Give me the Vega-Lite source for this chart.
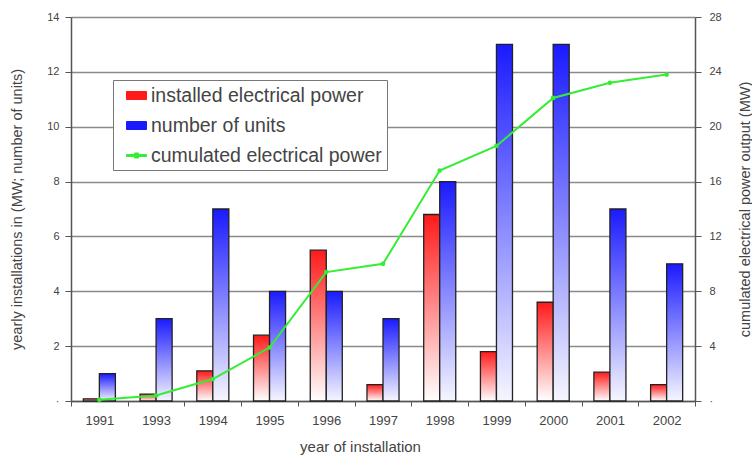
{
  "$schema": "https://vega.github.io/schema/vega-lite/v6.json",
  "width": 624,
  "height": 384,
  "autosize": "none",
  "padding": {"left": 71, "top": 17, "right": 57, "bottom": 56},
  "background": "white",
  "config": {
    "font": "Liberation Sans",
    "view": {"stroke": null},
    "axis": {"labelFont": "Liberation Sans", "titleFont": "Liberation Sans", "titleFontWeight": "normal", "labelColor": "#444", "titleColor": "#444"}
  },
  "datasets": {
    "bars": [
      {"year": "1991", "series": "installed electrical power", "value": 0.08},
      {"year": "1991", "series": "number of units", "value": 1},
      {"year": "1993", "series": "installed electrical power", "value": 0.25},
      {"year": "1993", "series": "number of units", "value": 3},
      {"year": "1994", "series": "installed electrical power", "value": 1.1},
      {"year": "1994", "series": "number of units", "value": 7},
      {"year": "1995", "series": "installed electrical power", "value": 2.4},
      {"year": "1995", "series": "number of units", "value": 4},
      {"year": "1996", "series": "installed electrical power", "value": 5.5},
      {"year": "1996", "series": "number of units", "value": 4},
      {"year": "1997", "series": "installed electrical power", "value": 0.6},
      {"year": "1997", "series": "number of units", "value": 3},
      {"year": "1998", "series": "installed electrical power", "value": 6.8},
      {"year": "1998", "series": "number of units", "value": 8},
      {"year": "1999", "series": "installed electrical power", "value": 1.8},
      {"year": "1999", "series": "number of units", "value": 13},
      {"year": "2000", "series": "installed electrical power", "value": 3.6},
      {"year": "2000", "series": "number of units", "value": 13},
      {"year": "2001", "series": "installed electrical power", "value": 1.05},
      {"year": "2001", "series": "number of units", "value": 7},
      {"year": "2002", "series": "installed electrical power", "value": 0.6},
      {"year": "2002", "series": "number of units", "value": 5}
    ],
    "cumulative": [
      {"year": "1991", "series": "cumulated electrical power", "cumulated": 0.1},
      {"year": "1993", "series": "cumulated electrical power", "cumulated": 0.4},
      {"year": "1994", "series": "cumulated electrical power", "cumulated": 1.6},
      {"year": "1995", "series": "cumulated electrical power", "cumulated": 3.9},
      {"year": "1996", "series": "cumulated electrical power", "cumulated": 9.4},
      {"year": "1997", "series": "cumulated electrical power", "cumulated": 10.0},
      {"year": "1998", "series": "cumulated electrical power", "cumulated": 16.8},
      {"year": "1999", "series": "cumulated electrical power", "cumulated": 18.6},
      {"year": "2000", "series": "cumulated electrical power", "cumulated": 22.1},
      {"year": "2001", "series": "cumulated electrical power", "cumulated": 23.2},
      {"year": "2002", "series": "cumulated electrical power", "cumulated": 23.8}
    ]
  },
  "layer": [
    {
      "data": {"name": "bars"},
      "mark": {"type": "bar", "stroke": "#222", "strokeWidth": 1.3},
      "encoding": {
        "x": {
          "field": "year", "type": "nominal", "sort": null,
          "scale": {"paddingInner": 0, "paddingOuter": 0},
          "axis": {
            "title": "year of installation", "labelAngle": 0, "tickBand": "extent",
            "domainColor": "#555", "domainWidth": 1.5, "tickColor": "#555", "tickSize": 5,
            "labelFontSize": 13, "labelPadding": 8,
            "titleFontSize": 15, "titleX": 289, "titleY": 45, "titleBaseline": "middle",
            "grid": false
          }
        },
        "xOffset": {
          "field": "series", "type": "nominal",
          "scale": {"domain": ["installed electrical power", "number of units"], "paddingOuter": 0.77, "paddingInner": 0}
        },
        "y": {
          "field": "value", "type": "quantitative",
          "scale": {"domain": [0, 14], "nice": false},
          "axis": {
            "title": "yearly installations in (MW; number of units)",
            "values": [0, 2, 4, 6, 8, 10, 12, 14],
            "labelExpr": "datum.value == 0 ? '·' : datum.label",
            "grid": true, "gridColor": "#8a8a8a", "gridWidth": 1.5,
            "domainColor": "#555", "domainWidth": 1.5, "tickColor": "#555", "tickSize": 6,
            "labelFontSize": 11, "labelPadding": 6,
            "titleFontSize": 14.5, "titleX": -54, "titleBaseline": "middle"
          }
        },
        "fill": {
          "condition": {
            "test": "datum.series === 'installed electrical power'",
            "value": {"gradient": "linear", "x1": 0, "y1": 0, "x2": 0, "y2": 1, "stops": [{"offset": 0, "color": "#ff1a1a"}, {"offset": 1, "color": "#ffffff"}]}
          },
          "value": {"gradient": "linear", "x1": 0, "y1": 0, "x2": 0, "y2": 1, "stops": [{"offset": 0, "color": "#1a1aff"}, {"offset": 1, "color": "#f6f6ff"}]}
        }
      }
    },
    {
      "data": {"name": "cumulative"},
      "mark": {"type": "line", "strokeWidth": 2, "point": {"filled": true, "size": 22}},
      "encoding": {
        "x": {"field": "year", "type": "nominal", "sort": null},
        "y": {
          "field": "cumulated", "type": "quantitative",
          "scale": {"domain": [0, 28], "nice": false},
          "axis": {
            "orient": "right",
            "title": "cumulated electrical power output (MW)",
            "values": [0, 4, 8, 12, 16, 20, 24, 28],
            "labelExpr": "datum.value == 0 ? '·' : datum.label",
            "grid": false,
            "domainColor": "#555", "domainWidth": 1.5, "tickColor": "#555", "tickSize": 6,
            "labelFontSize": 11, "labelPadding": 8,
            "titleFontSize": 14.5, "titleAngle": 270, "titleX": 50, "titleBaseline": "middle"
          }
        },
        "color": {
          "field": "series", "type": "nominal",
          "scale": {
            "domain": ["installed electrical power", "number of units", "cumulated electrical power"],
            "range": ["#ff1a1a", "#1a1aff", "#33ee33"]
          },
          "legend": {
            "orient": "none", "legendX": 42, "legendY": 63, "title": null,
            "labelFont": "Liberation Sans", "labelFontSize": 19.5, "labelColor": "#444",
            "fillColor": "white", "strokeColor": "#777", "padding": 5, "rowPadding": 10,
            "symbolSize": 400, "symbolOffset": 8, "labelOffset": 4, "labelLimit": 400,
            "encode": {
              "symbols": {
                "update": {
                  "shape": [
                    {"test": "datum.value === 'cumulated electrical power'", "value": "M-1,-0.1H1V0.1H-1Z M-0.2,-0.25H0.2V0.25H-0.2Z"},
                    {"value": "M-1,-0.4H1V0.4H-1Z"}
                  ],
                  "fill": [
                    {"test": "datum.value === 'installed electrical power'", "value": {"gradient": "linear", "x1": 0, "y1": 0, "x2": 0, "y2": 1, "stops": [{"offset": 0, "color": "#ff1a1a"}, {"offset": 1, "color": "#ffffff"}]}},
                    {"test": "datum.value === 'number of units'", "value": {"gradient": "linear", "x1": 0, "y1": 0, "x2": 0, "y2": 1, "stops": [{"offset": 0, "color": "#1a1aff"}, {"offset": 1, "color": "#ffffff"}]}},
                    {"value": "#33ee33"}
                  ],
                  "stroke": [
                    {"test": "datum.value === 'cumulated electrical power'", "value": "transparent"},
                    {"value": "#444"}
                  ],
                  "strokeWidth": {"value": 1},
                  "opacity": {"value": 1}
                }
              }
            }
          }
        }
      }
    }
  ],
  "resolve": {"scale": {"y": "independent"}}
}
